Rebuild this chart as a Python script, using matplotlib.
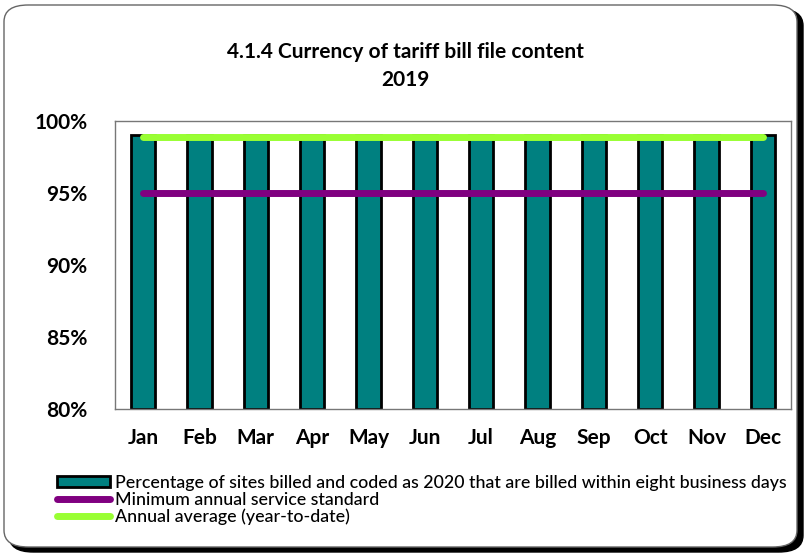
import matplotlib
matplotlib.use("Agg")
import matplotlib.pyplot as plt
from matplotlib.patches import FancyBboxPatch, Patch
from matplotlib.lines import Line2D

plt.rcParams['font.family'] = ['Lato', 'DejaVu Sans']

months = ["Jan", "Feb", "Mar", "Apr", "May", "Jun", "Jul", "Aug", "Sep", "Oct", "Nov", "Dec"]
pct_billed = [99.0, 99.0, 99.0, 99.0, 99.0, 99.0, 99.0, 99.0, 99.0, 99.0, 99.0, 99.0]
min_standard = [95.0] * 12
annual_avg = [98.9] * 12
yticks = [80, 85, 90, 95, 100]
ytick_labels = ["80%", "85%", "90%", "95%", "100%"]

W, H = 808, 556
fig = plt.figure(figsize=(W / 100, H / 100), dpi=100)

# background frame with shadow
shadow = FancyBboxPatch((9 / W, 1 - 552 / H), 794 / W, 543 / H,
                        boxstyle="round,pad=0,rounding_size=0.03",
                        transform=fig.transFigure, facecolor="black",
                        edgecolor="black", zorder=0)
frame = FancyBboxPatch((4 / W, 1 - 547 / H), 793 / W, 542 / H,
                       boxstyle="round,pad=0,rounding_size=0.03",
                       transform=fig.transFigure, facecolor="white",
                       edgecolor="#666666", linewidth=1, zorder=1)
fig.patches.extend([shadow, frame])

ax = fig.add_axes([115 / W, 1 - 409 / H, (791 - 115) / W, (409 - 121) / H])
ax.set_zorder(2)
x = list(range(len(months)))
ax.bar(x, [v - 80 for v in pct_billed], bottom=80, width=0.43,
       color="#008080", edgecolor="black", linewidth=2, zorder=2)
ax.plot(x, min_standard, color="#800080", linewidth=5, solid_capstyle="round", zorder=3)
ax.plot(x, annual_avg, color="#99FF33", linewidth=5, solid_capstyle="round", zorder=3)

ax.set_xlim(-0.5, len(months) - 0.5)
ax.set_ylim(80, 100)
ax.set_yticks(yticks)
ax.set_yticklabels(ytick_labels, fontsize=15, fontweight="bold")
ax.set_xticks(x)
ax.set_xticklabels(months, fontsize=15, fontweight="bold")
ax.tick_params(length=0, pad=14)
ax.tick_params(axis="y", pad=20)
for s in ax.spines.values():
    s.set_color("#777777")
    s.set_linewidth(1)

fig.text(405 / W, 1 - 52 / H, "4.1.4 Currency of tariff bill file content", ha="center",
         va="center", fontsize=15, fontweight="bold")
fig.text(405 / W, 1 - 80 / H, "2019", ha="center", va="center", fontsize=15,
         fontweight="bold")

handles = [Patch(facecolor="#008080", edgecolor="black", linewidth=2),
           Line2D([0], [0], color="#800080", linewidth=5, solid_capstyle="round"),
           Line2D([0], [0], color="#99FF33", linewidth=5, solid_capstyle="round")]
labels = ["Percentage of sites billed and coded as 2020 that are billed within eight business days",
          "Minimum annual service standard",
          "Annual average (year-to-date)"]
fig.legend(handles, labels, loc="upper left", bbox_to_anchor=(57 / W, 1 - 475 / H),
           frameon=False, fontsize=12.8, handlelength=3.0, handleheight=0.6,
           labelspacing=0.05, handletextpad=0.25, borderpad=0, borderaxespad=0,
           prop={"size": 12.8, "weight": "medium"})

fig.savefig("out.png", dpi=100)
